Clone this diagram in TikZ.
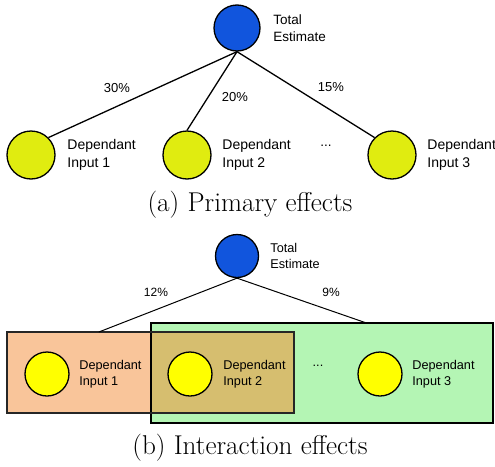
\documentclass[tikz,border=0pt]{standalone}
\usepackage{fontspec}
\usepackage{tikz}
\usetikzlibrary{calc}                                %allows coordinate calculations.

\newfontfamily\arialfont{Liberation Sans}

\definecolor{estblue}{RGB}{17,85,221}
\definecolor{depyellow}{RGB}{224,236,16}
\definecolor{depyellowb}{RGB}{255,255,0}
\definecolor{grporange}{RGB}{249,197,154}
\definecolor{grpgreen}{RGB}{180,245,180}
\definecolor{grpboth}{RGB}{214,190,111}

\begin{document}
\begin{tikzpicture}[x=1pt,y=-1pt,thick]

% Define styles
\tikzset{
  est/.style={circle,draw,fill=estblue,minimum size=46pt,inner sep=0pt,line width=1.3pt},
  dep/.style={circle,draw,fill=depyellow,minimum size=48pt,inner sep=0pt,line width=1.3pt},
  lbl/.style={anchor=west,align=left,inner sep=0pt,font=\arialfont\fontsize{13.5}{17.5}\selectfont},
  lbla/.style={anchor=west,align=left,inner sep=0pt,font=\arialfont\fontsize{14}{18}\selectfont},
  lblb/.style={anchor=west,align=left,inner sep=0pt,font=\arialfont\fontsize{12.7}{16}\selectfont},
  pct/.style={inner sep=0pt,font=\arialfont\fontsize{13}{15}\selectfont},
  pctb/.style={inner sep=0pt,font=\arialfont\fontsize{12}{14}\selectfont},
  grp/.style={rectangle,inner sep=0pt,outer sep=0pt},
  capt/.style={inner sep=0pt,font=\fontsize{27.2}{31}\selectfont},
}

\useasboundingbox (0,0) rectangle (495,466);

% Define rows (y grows downwards)
\def\ya{155}      %Row of inputs, primary effects.
\def\yb{374}      %Row of inputs, interaction effects.

% PRIMARY EFFECTS
\node[est] (tota) at (237,28) {};
\node[lbl] (totalbl) at (273,28) {Total\\Estimate};

\node[dep] (ina1) at (31,\ya) {};
\node[dep] (ina2) at (187,\ya) {};
\node[dep] (ina3) at (392,\ya) {};
\node[lbla] (ina1lbl) at (67,\ya) {Dependant\\Input 1};
\node[lbla] (ina2lbl) at (222,\ya) {Dependant\\Input 2};
\node[lbla] (ina3lbl) at (427,\ya) {Dependant\\Input 3};
\node[lbl,anchor=center] (dotsa) at (326,146) {...};

\draw[line width=1.3pt] (tota.south) -- (ina1.north east);
\draw[line width=1.3pt] (tota.south) -- (ina2.north);
\draw[line width=1.3pt] (tota.south) -- (ina3.north west);

\node[pct] (pa1) at (117,88) {30\%};
\node[pct] (pa2) at (235,97) {20\%};
\node[pct] (pa3) at (331,87) {15\%};

\node[capt] (capa) at (250,205) {(a) Primary effects};

% INTERACTION EFFECTS
\node[est,minimum size=43pt] (totb) at (237,256) {};
\node[lblb] (totblbl) at (270,256) {Total\\Estimate};

% Fill groups
\node[grp,fill=grpgreen,minimum width=342pt,minimum height=100pt] (grpb) at (322,373) {};
\node[grp,fill=grporange,minimum width=287pt,minimum height=81pt] (grpa) at (150.5,372.5) {};
\fill[grpboth] (grpa.north -| grpb.west) rectangle (grpa.south east);
\draw[line width=1.3pt] (grpb.north west) rectangle (grpb.south east);
\draw[line width=1.2pt,black!85] (grpa.north west) rectangle (grpa.south east);

\draw[line width=1pt] (totb.south) -- ($(grpa.north west)!0.32!(grpa.north east)$);
\draw[line width=1pt] (totb.south) -- ($(grpb.north west)!0.63!(grpb.north east)$);

\node[pctb] (pb1) at (156,292) {12\%};
\node[pctb] (pb2) at (331,292) {9\%};

\node[dep,fill=depyellowb,minimum size=44pt] (inb1) at (47,\yb) {};
\node[dep,fill=depyellowb,minimum size=44pt] (inb2) at (190,\yb) {};
\node[dep,fill=depyellowb,minimum size=44pt] (inb3) at (380,\yb) {};
\node[lblb] (inb1lbl) at (79,\yb) {Dependant\\Input 1};
\node[lblb] (inb2lbl) at (223,\yb) {Dependant\\Input 2};
\node[lblb] (inb3lbl) at (412,\yb) {Dependant\\Input 3};
\node[lblb,anchor=center] (dotsb) at (318,366) {...};

\node[capt] (capb) at (250,448) {(b) Interaction effects};

\end{tikzpicture}
\end{document}
